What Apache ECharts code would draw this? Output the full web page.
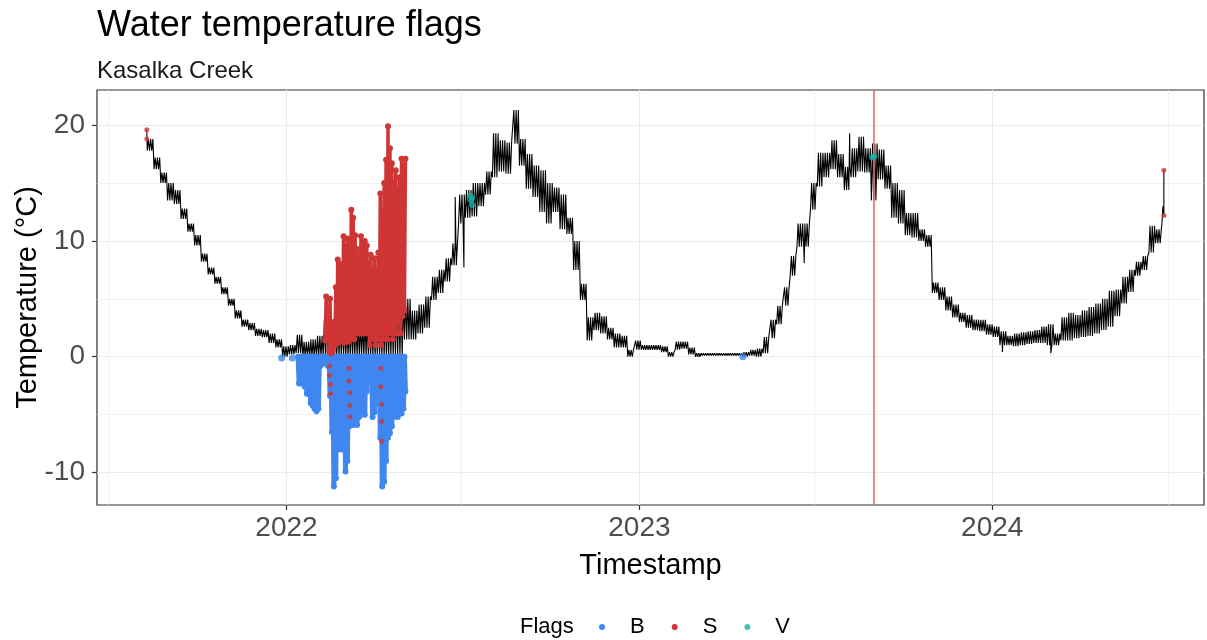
<!DOCTYPE html>
<html>
<head>
<meta charset="utf-8">
<script src="https://cdn.jsdelivr.net/npm/echarts@6/dist/echarts.min.js"></script>
<style>
  html, body { margin: 0; padding: 0; background: #fff; }
  #chart { width: 1207px; height: 640px; }
</style>
</head>
<body>
<div id="chart"></div>
<script>
// weekly envelope (low / high) of the logged water temperature, starting 2021-08-10
const weekStart = '2021-08-10';
const tempLow = [
  17.8, 16.2, 15.0, 13.5, 13.2, 11.9, 10.8, 9.6, 8.2, 7.1,
  6.3, 5.4, 4.4, 3.3, 2.6, 2.3, 1.8, 1.7, 1.2, 0.8,
  0.0, 0.2, 0.3, 0.0, 0.0, 0.0, 0.0, 0.0, 0.0, 0.0,
  0.0, 0.0, 0.0, 0.0, 0.0, 0.0, 0.0, 0.0, 1.5, 1.5,
  2.0, 2.5, 4.9, 5.5, 6.5, 7.9, 11.5, 12.0, 12.1, 13.0,
  14.0, 15.5, 16.0, 15.8, 18.4, 16.5, 14.5, 13.8, 12.5, 11.5,
  12.5, 11.0, 10.6, 7.5, 4.9, 1.4, 2.3, 2.0, 1.5, 0.8,
  0.8, 0.0, 0.6, 0.6, 0.6, 0.6, 0.4, 0.0, 0.6, 0.7,
  0.2, 0.0, 0.1, 0.1, 0.1, 0.1, 0.1, 0.1, 0.0, 0.1,
  0.0, 0.3, 1.6, 2.8, 4.4, 7.0, 9.5, 9.5, 12.7, 14.7,
  15.5, 16.2, 15.5, 14.4, 15.5, 16.0, 15.9, 13.5, 15.3, 14.5,
  12.0, 11.5, 10.5, 10.3, 10.0, 9.5, 5.5, 4.9, 4.0, 3.4,
  3.0, 2.5, 2.3, 2.2, 1.9, 1.7, 1.0, 1.0, 0.9, 1.0,
  1.1, 1.2, 1.2, 1.0, 1.0, 1.4, 1.4, 1.6, 1.7, 1.8,
  2.0, 2.3, 2.6, 3.5, 4.6, 5.6, 7.0, 7.5, 9.0, 9.8
];
const tempHigh = [
  18.8, 17.2, 15.9, 15.0, 14.4, 12.8, 11.5, 10.5, 8.9, 7.7,
  6.9, 6.0, 5.0, 4.0, 3.2, 2.9, 2.4, 2.3, 2.0, 1.5,
  0.9, 1.0, 1.9, 1.3, 1.5, 1.8, 3.2, 2.8, 3.0, 2.6,
  3.0, 2.8, 3.2, 3.0, 3.5, 3.8, 4.5, 5.0, 5.0, 4.0,
  4.5, 5.2, 6.9, 7.5, 8.5, 9.8, 14.0, 14.4, 15.0, 15.0,
  16.0, 19.3, 18.7, 18.5, 21.3, 18.8, 17.5, 16.5, 16.1, 15.0,
  14.6, 14.0, 12.0, 10.0, 6.3, 3.4, 3.8, 3.5, 2.5, 2.0,
  1.8, 0.6, 1.4, 1.0, 1.0, 1.0, 0.9, 0.4, 1.3, 1.3,
  0.8, 0.3, 0.3, 0.3, 0.3, 0.3, 0.3, 0.3, 0.4, 0.6,
  0.7, 1.7, 3.2, 4.4, 6.0, 8.7, 11.5, 11.5, 15.0, 17.6,
  17.6, 18.7, 17.5, 16.4, 18.0, 19.0, 18.0, 18.4, 17.9, 16.5,
  15.0, 14.4, 12.4, 12.4, 11.0, 10.5, 6.4, 6.0, 5.2, 4.5,
  3.8, 3.6, 3.2, 3.2, 2.8, 2.6, 2.2, 1.8, 2.0, 2.1,
  2.2, 2.3, 2.6, 2.8, 2.0, 3.4, 3.8, 3.6, 4.0, 4.3,
  4.6, 5.0, 5.7, 5.8, 6.9, 7.5, 8.2, 8.7, 11.3, 11.0
];
// single readings that stand out from the weekly envelope
const spikeDates = ['2021-08-09', '2022-06-24', '2022-07-03', '2023-06-20', '2023-08-06',
  '2024-01-11', '2024-03-01', '2024-06-24', '2024-06-25', '2024-06-26', '2024-06-26'];
const spikeValues = [19.6, 13.8, 7.7, 8.1, 19.3, 0.4, 0.3, 11.5, 13.0, 12.2, 16.1];

// flag B: sub-zero readings every 2 days from 2022-01-13 (lowest value per step)
const bStart = '2022-01-13';
const bLow = [
  -2.3, -2.3, -2.3, -2.6, -3.2, -3.2, -4.0, -4.2, -4.5, -4.7,
  -4.5, -0.8, -0.6, -0.5, -0.6, -0.8, -3.4, -6.5, -11.2, -10.5,
  -8.0, -7.5, -8.0, -6.5, -9.9, -9.0, -6.0, -5.8, -5.9, -5.5,
  -5.9, -5.2, -5.0, -4.8, -5.0, -3.0, -1.7, -2.0, -5.2, -4.8,
  -4.0, -4.0, -7.0, -11.2, -10.8, -9.0, -7.0, -6.6, -6.0, -5.2,
  -5.0, -5.2, -4.9, -4.9, -4.5, -3.0
];
const bDates = ['2021-12-27', '2022-01-07', '2023-04-18'];
const bValues = [-0.1, -0.1, 0.0];

// flag S: spikes every 2 days from 2022-02-10 (low / high per step)
const sStart = '2022-02-10';
const sLow = [
  1.4, 1.5, 0.5, 0.3, 0.5, 1.0, 1.5, 1.2, 1.5, 1.5,
  1.2, 1.5, 1.3, 2.0, 1.5, 1.5, 2.0, 2.5, 2.0, 2.5,
  2.0, 2.5, 2.0, 1.0, 1.5, 2.0, 1.0, 1.5, 2.0, 1.0,
  1.5, 2.0, 1.5, 2.5, 2.0, 1.5, 2.5, 2.0, 3.0, 2.0,
  3.5, 4.0
];
const sHigh = [
  5.2, 4.0, 5.0, 2.5, 3.0, 6.0, 8.4, 7.5, 8.0, 10.4,
  9.5, 10.2, 8.5, 12.7, 12.0, 10.5, 9.3, 8.5, 10.4, 9.5,
  10.0, 9.6, 8.0, 8.8, 7.5, 8.5, 7.0, 9.0, 14.1, 12.5,
  15.0, 17.0, 19.9, 18.0, 16.7, 15.0, 16.1, 14.5, 15.5, 17.1,
  16.5, 17.1
];
const sDates = [
  '2021-08-09', '2021-08-09', '2024-06-26', '2024-06-26',
  '2022-02-14', '2022-02-14', '2022-02-15', '2022-02-15',
  '2022-03-06', '2022-03-06', '2022-03-07', '2022-03-07', '2022-03-07',
  '2022-04-08', '2022-04-08', '2022-04-09', '2022-04-09', '2022-04-09'
];
const sValues = [
  19.6, 18.8, 16.1, 12.2,
  -0.8, -1.6, -2.4, -3.2,
  -1.0, -2.1, -3.1, -4.2, -5.2,
  -1.0, -2.6, -4.1, -5.6, -7.3
];

// flag V
const vDates = ['2022-07-10', '2022-07-11', '2022-07-12', '2022-07-12', '2023-08-30', '2023-09-01'];
const vValues = [13.9, 13.5, 13.1, 13.7, 17.2, 17.3];

const referenceDate = '2023-08-31';

const majorX = ['2022-01-01', '2023-01-01', '2024-01-01'];
const minorX = ['2021-07-01', '2022-07-01', '2023-07-01', '2024-07-01'];
const majorY = [-10, 0, 10, 20];
const minorY = [-5, 5, 15];

const DAY = 86400000;
const ts = (s) => Date.parse(s);

// each week is drawn as readings swinging between its low and high
const mainLine = [];
tempLow.forEach((lo, i) => {
  const t = ts(weekStart) + i * 7 * DAY;
  const hi = tempHigh[i];
  for (let k = 0; k < 6; k++) {
    mainLine.push([t + k * (7 / 6) * DAY, k % 2 ? hi : lo]);
  }
});
spikeDates.forEach((d, i) => mainLine.push([ts(d) + 0.5 * DAY, spikeValues[i]]));
mainLine.sort((a, b) => a[0] - b[0]);

const bLine = [];
bLow.forEach((v, i) => {
  const t = ts(bStart) + i * 2 * DAY;
  bLine.push([t, 0], [t + DAY, v]);
});
const bPoints = bDates.map((d, i) => [ts(d), bValues[i]]);

const sLine = [];
sLow.forEach((v, i) => {
  const t = ts(sStart) + i * 2 * DAY;
  sLine.push([t, v], [t + DAY, sHigh[i]]);
});
const sPoints = sDates.map((d, i) => [ts(d) + 0.5 * DAY, sValues[i]]);
const vPoints = vDates.map((d, i) => [ts(d), vValues[i]]);

const colB = '#3f86f0';
const colS = '#cf3535';
const colV = '#19b1a6';
const gridCol = '#ebebeb';
const font = '"Liberation Sans", Arial, sans-serif';

const xMin = ts('2021-06-19');
const xMax = ts('2024-08-07');

const chart = echarts.init(document.getElementById('chart'));
chart.setOption({
  animation: false,
  textStyle: {fontFamily: font},
  title: [
    {text: 'Water temperature flags', left: 92, top: 3,
      textStyle: {fontSize: 36, fontWeight: 'normal', color: '#000', fontFamily: font}},
    {text: 'Kasalka Creek', left: 92, top: 54,
      textStyle: {fontSize: 24, fontWeight: 'normal', color: '#1a1a1a', fontFamily: font}},
    {text: 'Flags', left: 515, top: 611,
      textStyle: {fontSize: 22, fontWeight: 'normal', color: '#000', fontFamily: font}},
  ],
  legend: {
    left: 594, top: 611,
    itemWidth: 6, itemHeight: 6, itemGap: 27,
    data: [{name: 'B', icon: 'circle'}, {name: 'S', icon: 'circle'}, {name: 'V', icon: 'circle'}],
    textStyle: {fontSize: 22, color: '#000', padding: [0, 0, 0, 20], fontFamily: font},
  },
  grid: {left: 97, top: 90, right: 3, bottom: 135, show: true,
    outerBoundsMode: 'none', containLabel: false,
    borderColor: '#333', borderWidth: 1.2},
  xAxis: [
    {
      type: 'value', min: xMin, max: xMax,
      name: 'Timestamp', nameLocation: 'middle', nameGap: 46,
      nameTextStyle: {fontSize: 29, color: '#000'},
      axisLine: {show: false, onZero: false},
      axisTick: {show: true, length: 5, lineStyle: {color: '#333', width: 1.2},
        customValues: majorX.map(ts)},
      axisLabel: {fontSize: 28, color: '#4d4d4d', margin: 9,
        customValues: majorX.map(ts),
        formatter: (v) => String(new Date(v).getUTCFullYear())},
      splitLine: {show: true, lineStyle: {color: gridCol, width: 1.2}},
    },
    {
      type: 'value', min: xMin, max: xMax,
      axisLine: {show: false, onZero: false},
      axisTick: {show: false, customValues: minorX.map(ts)},
      axisLabel: {show: false, customValues: minorX.map(ts)},
      splitLine: {show: true, lineStyle: {color: gridCol, width: 0.7}},
    },
  ],
  yAxis: [
    {
      type: 'value', min: -12.8, max: 23.03,
      name: 'Temperature (°C)', nameLocation: 'middle', nameGap: 55,
      nameMoveOverlap: false,
      nameTextStyle: {fontSize: 29, color: '#000'},
      axisLine: {show: false, onZero: false},
      axisTick: {show: true, length: 5, lineStyle: {color: '#333', width: 1.2},
        customValues: majorY},
      axisLabel: {fontSize: 28, color: '#4d4d4d', margin: 12, customValues: majorY},
      splitLine: {show: true, lineStyle: {color: gridCol, width: 1.2}},
    },
    {
      type: 'value', min: -12.8, max: 23.03,
      axisLine: {show: false, onZero: false},
      axisTick: {show: false, customValues: minorY},
      axisLabel: {show: false, customValues: minorY},
      splitLine: {show: true, lineStyle: {color: gridCol, width: 0.7}},
    },
  ],
  series: [
    {
      name: 'Temperature', type: 'line', data: mainLine, showSymbol: false,
      lineStyle: {color: '#000', width: 1.1}, itemStyle: {color: '#000'}, z: 2,
      markLine: {
        silent: true, symbol: 'none', label: {show: false},
        lineStyle: {color: '#e07070', width: 1.6, type: 'solid'},
        data: [{xAxis: ts(referenceDate)}],
      },
    },
    {
      name: 'B', type: 'line', data: bLine, color: colB,
      symbol: 'circle', symbolSize: 6, showSymbol: true, showAllSymbol: true,
      lineStyle: {color: colB, width: 5}, itemStyle: {color: colB}, z: 3,
    },
    {
      name: 'B', type: 'scatter', data: bPoints, symbolSize: 7,
      itemStyle: {color: colB}, z: 3,
    },
    {
      name: 'S', type: 'line', data: sLine, color: colS,
      symbol: 'circle', symbolSize: 6, showSymbol: true, showAllSymbol: true,
      lineStyle: {color: colS, width: 3.5}, itemStyle: {color: colS}, z: 4,
    },
    {
      name: 'S', type: 'scatter', data: sPoints, symbolSize: 5,
      itemStyle: {color: colS}, z: 4,
    },
    {
      name: 'V', type: 'scatter', data: vPoints, symbolSize: 6,
      itemStyle: {color: colV}, z: 5,
    },
  ],
});
</script>
</body>
</html>
